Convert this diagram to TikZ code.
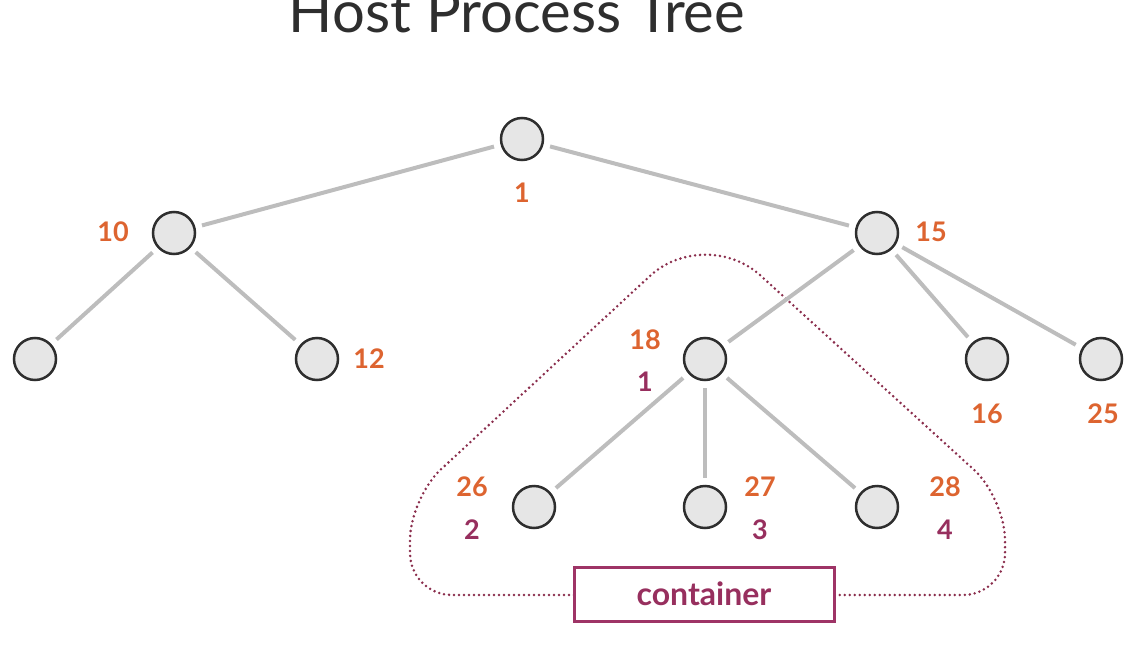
\documentclass[tikz,border=0pt]{standalone}
\usepackage{fontspec}
\setmainfont{Lato}
\definecolor{nodefill}{HTML}{E6E6E6}
\definecolor{nodeline}{HTML}{2E2E2E}
\definecolor{edgegray}{HTML}{BDBDBD}
\definecolor{pidorange}{HTML}{DD6430}
\definecolor{pidpurple}{HTML}{972F5E}
\definecolor{contline}{HTML}{9E3466}
\definecolor{dotline}{HTML}{8A2D4C}
\begin{document}
\begin{tikzpicture}[x=1pt,y=-1pt,
  proc/.style={circle,draw=nodeline,line width=2.5pt,fill=nodefill,minimum size=42pt,inner sep=0pt,outer sep=0pt},
  link/.style={draw=edgegray,line width=4pt,shorten >=8pt,shorten <=8pt},
  hostpid/.style={text=pidorange,font=\fontsize{27}{32}\selectfont\bfseries,inner sep=0pt},
  contpid/.style={text=pidpurple,font=\fontsize{27}{32}\selectfont\bfseries,inner sep=0pt},
  title/.style={text=nodeline,font=\fontsize{58}{64}\selectfont,inner sep=0pt,anchor=base}
]
\useasboundingbox (0,0) rectangle (1137,669);

% title
\node[title] (ttl) at (517,33) {Host Process Tree};

% dotted container outline
\draw[dotline,line width=2.8pt,dash pattern=on 0pt off 5pt,line cap=round,rounded corners=42pt]
  (574,595) -- (410,595) -- (410,498) [rounded corners=75pt] -- (705,225) [rounded corners=42pt] -- (1005,498) -- (1005,595) -- (834,595);

% nodes
\node[proc] (n1)  at (522,139) {};
\node[proc] (n10) at (174,233) {};
\node[proc] (n15) at (877,233) {};
\node[proc] (n9)  at (35,359) {};
\node[proc] (n12) at (317,359) {};
\node[proc] (n18) at (705,359) {};
\node[proc] (n16) at (987,359) {};
\node[proc] (n25) at (1101,359) {};
\node[proc] (n26) at (534,507) {};
\node[proc] (n27) at (705,507) {};
\node[proc] (n28) at (877,507) {};

% edges
\draw[link] (n1) -- (n10);
\draw[link] (n1) -- (n15);
\draw[link] (n10) -- (n9);
\draw[link] (n10) -- (n12);
\draw[link] (n15) -- (n18);
\draw[link] (n15) -- (n16);
\draw[link] (n15) -- (n25);
\draw[link] (n18) -- (n26);
\draw[link] (n18) -- (n27);
\draw[link] (n18) -- (n28);

% labels
\node[hostpid] (l1)  at (522,193) {1};
\node[hostpid] (l10) at (113,232) {10};
\node[hostpid] (l15) at (931,232) {15};
\node[hostpid] (l12) at (369,359) {12};
\node[hostpid] (l18) at (645,340) {18};
\node[contpid] (c1)  at (645,382) {1};
\node[hostpid] (l16) at (987,414) {16};
\node[hostpid] (l25) at (1103,414) {25};
\node[hostpid] (l26) at (472,487) {26};
\node[contpid] (c2)  at (472,530) {2};
\node[hostpid] (l27) at (760,487) {27};
\node[contpid] (c3)  at (760,530) {3};
\node[hostpid] (l28) at (945,487) {28};
\node[contpid] (c4)  at (945,530) {4};

% container box
\node[draw=contline,line width=3pt,fill=white,minimum width=260pt,minimum height=54pt,inner sep=0pt,
  text=pidpurple,font=\fontsize{32}{38}\selectfont\bfseries] (cont) at (704,594) {container};
\end{tikzpicture}
\end{document}
